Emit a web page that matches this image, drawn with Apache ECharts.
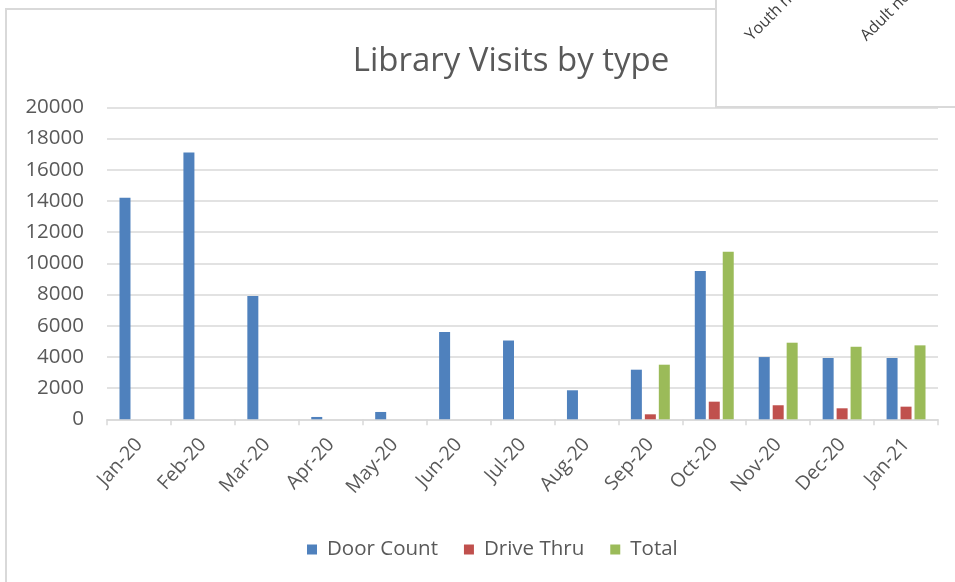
<!DOCTYPE html>
<html>
<head>
<meta charset="utf-8">
<title>Library Visits by type</title>
<script src="https://cdn.jsdelivr.net/npm/echarts@6/dist/echarts.min.js"></script>
<style>
  html, body { margin: 0; padding: 0; background: #ffffff; }
  #chart { width: 955px; height: 582px; }
</style>
</head>
<body>
<div id="chart"></div>
<script>
// Monthly library visits, Jan 2020 – Jan 2021
const months = ['Jan-20', 'Feb-20', 'Mar-20', 'Apr-20', 'May-20', 'Jun-20', 'Jul-20',
                'Aug-20', 'Sep-20', 'Oct-20', 'Nov-20', 'Dec-20', 'Jan-21'];
const doorCount = [14200, 17100, 7900, 150, 470, 5600, 5050, 1860, 3180, 9500, 3990, 3930, 3930];
const driveThru = [null, null, null, null, null, null, null, null, 320, 1130, 900, 705, 810];
const total     = [null, null, null, null, null, null, null, null, 3500, 10740, 4910, 4650, 4740];
const seriesNames = ['Door Count', 'Drive Thru', 'Total'];
const yTicks = { min: 0, max: 20000, step: 2000 };

const FONT = '"Open Sans", "Liberation Sans", sans-serif';
const TEXT = '#595959';
const colors = ['#4F81BD', '#C0504D', '#9BBB59'];

const chart = echarts.init(document.getElementById('chart'), null, { renderer: 'canvas' });

function barSeries(name, data, color) {
  return {
    name: name,
    type: 'bar',
    data: data,
    barWidth: 11,
    barGap: '27%',
    itemStyle: { color: color },
    emphasis: { disabled: true }
  };
}

chart.setOption({
  animation: false,
  backgroundColor: '#ffffff',
  color: colors,
  title: {
    text: 'Library Visits by type',
    left: 506,
    top: 40,
    textAlign: 'center',
    textStyle: { fontFamily: FONT, fontSize: 33, fontWeight: 'normal', color: TEXT }
  },
  legend: {
    data: seriesNames,
    left: 302,
    top: 534,
    itemWidth: 10,
    itemHeight: 10,
    itemGap: 26,
    icon: 'rect',
    textStyle: { fontFamily: FONT, fontSize: 20.5, color: TEXT, padding: [0, 0, 0, 5] }
  },
  grid: { left: 107, right: 17, top: 107.3, bottom: 162.7 },
  xAxis: {
    type: 'category',
    data: months,
    boundaryGap: true,
    axisLine: { lineStyle: { color: '#d9d9d9', width: 1.5 } },
    axisTick: { show: true, length: 6, lineStyle: { color: '#d9d9d9', width: 1.5 } },
    axisLabel: {
      rotate: 48,
      margin: 22,
      fontFamily: FONT,
      fontSize: 19.5,
      color: TEXT,
      interval: 0
    }
  },
  yAxis: {
    type: 'value',
    min: yTicks.min,
    max: yTicks.max,
    interval: yTicks.step,
    axisLine: { show: false },
    axisTick: { show: false },
    axisLabel: {
      margin: 23,
      fontFamily: FONT,
      fontSize: 20.5,
      color: TEXT,
      formatter: function (v) { return String(v); }
    },
    splitLine: { lineStyle: { color: '#d9d9d9', width: 1.5 } }
  },
  series: [
    barSeries(seriesNames[0], doorCount, colors[0]),
    barSeries(seriesNames[1], driveThru, colors[1]),
    barSeries(seriesNames[2], total, colors[2])
  ],
  graphic: [
    // outer chart frame
    {
      type: 'rect',
      shape: { x: 6, y: 9, width: 1200, height: 800 },
      style: { fill: 'none', stroke: '#d9d9d9', lineWidth: 2 },
      silent: true,
      z: 1
    },
    // neighbouring chart overlapping the top-right corner
    {
      type: 'rect',
      shape: { x: 716, y: -10, width: 300, height: 117 },
      style: { fill: '#ffffff', stroke: '#d9d9d9', lineWidth: 2 },
      silent: true,
      z: 50
    },
    {
      type: 'text',
      x: 754, y: 44,
      rotation: Math.PI / 4,
      style: { text: 'Youth nonfiction', font: '16px ' + FONT, fill: '#404040', textVerticalAlign: 'bottom' },
      silent: true,
      z: 51
    },
    {
      type: 'text',
      x: 869, y: 44,
      rotation: Math.PI / 4,
      style: { text: 'Adult nonfiction', font: '16px ' + FONT, fill: '#404040', textVerticalAlign: 'bottom' },
      silent: true,
      z: 51
    }
  ]
});
</script>
</body>
</html>
